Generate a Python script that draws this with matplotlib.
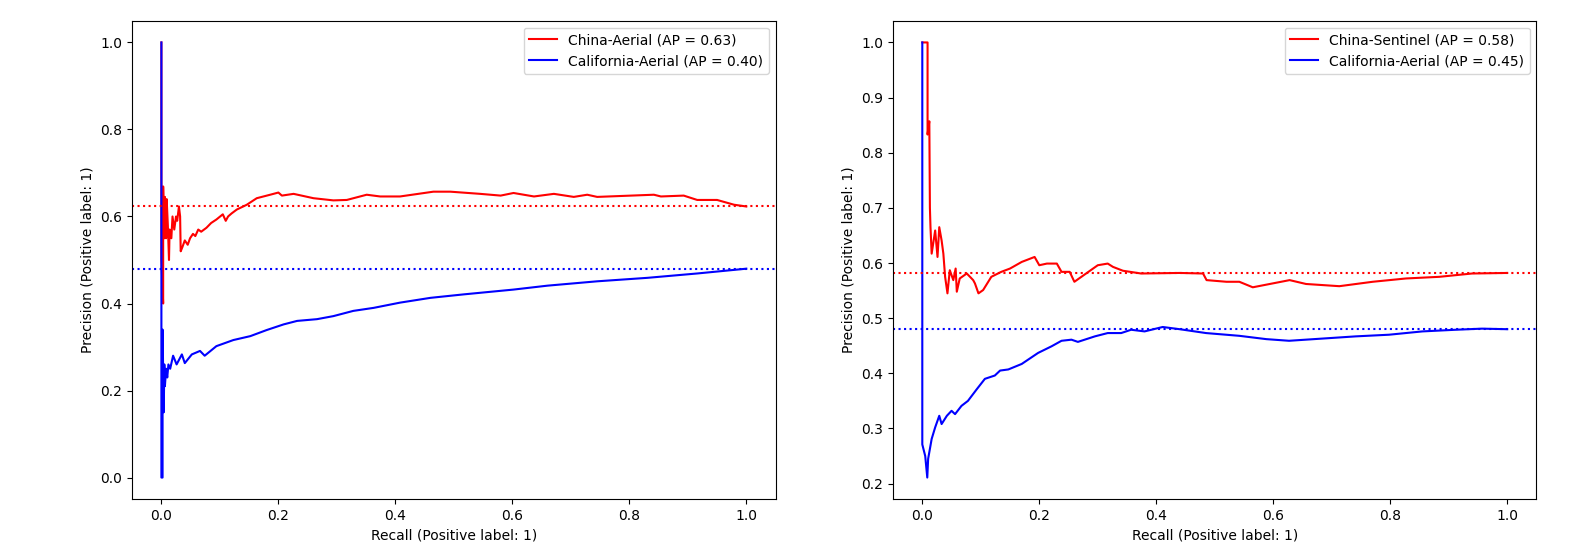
import numpy as np
import matplotlib.pyplot as plt

# Precision-recall curves read per model (recall, precision)
china_aerial_recall = [0.0, 0.0, 0.003, 0.003, 0.005, 0.006, 0.008, 0.009, 0.011, 0.013, 0.014, 0.017,
                       0.019, 0.022, 0.025, 0.027, 0.03, 0.032, 0.033, 0.036, 0.04, 0.045, 0.049, 0.054,
                       0.058, 0.063, 0.068, 0.077, 0.085, 0.094, 0.105, 0.11, 0.114, 0.12, 0.129, 0.146,
                       0.163, 0.186, 0.2, 0.206, 0.226, 0.26, 0.294, 0.317, 0.351, 0.374, 0.408, 0.465,
                       0.494, 0.545, 0.58, 0.602, 0.637, 0.671, 0.705, 0.728, 0.745, 0.842, 0.854, 0.893,
                       0.916, 0.95, 0.979, 1.0]
china_aerial_precision = [1.0, 0.5, 0.40, 0.669, 0.55, 0.645, 0.55, 0.64, 0.58, 0.50, 0.57, 0.55,
                          0.60, 0.57, 0.60, 0.59, 0.623, 0.60, 0.52, 0.53, 0.545, 0.535, 0.55, 0.56,
                          0.555, 0.57, 0.565, 0.574, 0.585, 0.593, 0.605, 0.59, 0.60, 0.607, 0.616, 0.627,
                          0.642, 0.65, 0.655, 0.648, 0.652, 0.642, 0.637, 0.638, 0.65, 0.646, 0.646, 0.657,
                          0.657, 0.652, 0.648, 0.654, 0.646, 0.652, 0.645, 0.65, 0.645, 0.65, 0.646, 0.648,
                          0.638, 0.638, 0.627, 0.623]

cal_aerial_recall_a = [0.0, 0.0, 0.002, 0.002, 0.004, 0.005, 0.006, 0.008, 0.01, 0.012, 0.015, 0.02,
                       0.026, 0.035, 0.04, 0.052, 0.066, 0.074, 0.094, 0.123, 0.152, 0.18, 0.209, 0.232,
                       0.266, 0.294, 0.328, 0.363, 0.408, 0.46, 0.517, 0.602, 0.66, 0.745, 0.831, 0.916, 1.0]
cal_aerial_precision_a = [1.0, 0.0, 0.0, 0.34, 0.15, 0.26, 0.21, 0.25, 0.23, 0.26, 0.25, 0.28,
                          0.26, 0.283, 0.263, 0.283, 0.291, 0.28, 0.302, 0.316, 0.325, 0.339, 0.352, 0.36,
                          0.364, 0.371, 0.383, 0.39, 0.402, 0.413, 0.421, 0.432, 0.441, 0.451, 0.459, 0.469, 0.48]

china_sentinel_recall = [0.0, 0.009, 0.009, 0.012, 0.013, 0.014, 0.016, 0.022, 0.026, 0.029, 0.033, 0.036,
                         0.039, 0.043, 0.047, 0.053, 0.057, 0.059, 0.064, 0.076, 0.087, 0.09, 0.096, 0.104,
                         0.118, 0.135, 0.15, 0.17, 0.192, 0.2, 0.213, 0.23, 0.238, 0.252, 0.26, 0.28,
                         0.3, 0.317, 0.326, 0.343, 0.374, 0.44, 0.48, 0.486, 0.52, 0.542, 0.565, 0.628,
                         0.656, 0.713, 0.77, 0.827, 0.884, 0.94, 1.0]
china_sentinel_precision = [1.0, 1.0, 0.833, 0.857, 0.70, 0.665, 0.617, 0.659, 0.611, 0.665, 0.641, 0.617,
                            0.575, 0.545, 0.587, 0.569, 0.59, 0.548, 0.572, 0.581, 0.569, 0.563, 0.545, 0.551,
                            0.575, 0.584, 0.59, 0.602, 0.611, 0.596, 0.599, 0.599, 0.584, 0.584, 0.566, 0.581,
                            0.596, 0.599, 0.593, 0.586, 0.581, 0.582, 0.581, 0.569, 0.566, 0.566, 0.556, 0.569,
                            0.562, 0.558, 0.566, 0.572, 0.575, 0.581, 0.582]

cal_aerial_recall_b = [0.0, 0.0, 0.0, 0.005, 0.0085, 0.01, 0.016, 0.022, 0.029, 0.033, 0.042, 0.05,
                       0.056, 0.067, 0.078, 0.093, 0.107, 0.124, 0.133, 0.147, 0.17, 0.198, 0.221, 0.238,
                       0.255, 0.266, 0.295, 0.317, 0.34, 0.357, 0.38, 0.411, 0.44, 0.485, 0.542, 0.588,
                       0.627, 0.684, 0.741, 0.798, 0.855, 0.912, 0.957, 1.0]
cal_aerial_precision_b = [1.0, 0.335, 0.271, 0.25, 0.211, 0.245, 0.281, 0.302, 0.323, 0.308, 0.323, 0.332,
                          0.326, 0.341, 0.35, 0.371, 0.39, 0.396, 0.405, 0.407, 0.417, 0.437, 0.449, 0.459,
                          0.461, 0.457, 0.467, 0.473, 0.473, 0.479, 0.476, 0.484, 0.48, 0.473, 0.468, 0.462,
                          0.459, 0.463, 0.467, 0.47, 0.476, 0.479, 0.481, 0.48]

# Chance levels (positive class prevalence)
chance_left = [0.623, 0.48]
chance_right = [0.582, 0.48]

fig = plt.figure(figsize=(15.77, 5.59), dpi=100)
ax1 = fig.add_axes([0.0838, 0.1068, 0.408, 0.8562])
ax2 = fig.add_axes([0.5663, 0.1068, 0.408, 0.8562])

ax1.plot(china_aerial_recall, china_aerial_precision, color='red', label='China-Aerial (AP = 0.63)')
ax1.plot(cal_aerial_recall_a, cal_aerial_precision_a, color='blue', label='California-Aerial (AP = 0.40)')
ax1.axhline(chance_left[0], color='red', linestyle=':')
ax1.axhline(chance_left[1], color='blue', linestyle=':')

ax2.plot(china_sentinel_recall, china_sentinel_precision, color='red', label='China-Sentinel (AP = 0.58)')
ax2.plot(cal_aerial_recall_b, cal_aerial_precision_b, color='blue', label='California-Aerial (AP = 0.45)')
ax2.axhline(chance_right[0], color='red', linestyle=':')
ax2.axhline(chance_right[1], color='blue', linestyle=':')

for ax in (ax1, ax2):
    ax.set_xlabel('Recall (Positive label: 1)')
    ax.set_ylabel('Precision (Positive label: 1)')
    ax.legend(loc='upper right')

fig.savefig('out.png', dpi=100)
